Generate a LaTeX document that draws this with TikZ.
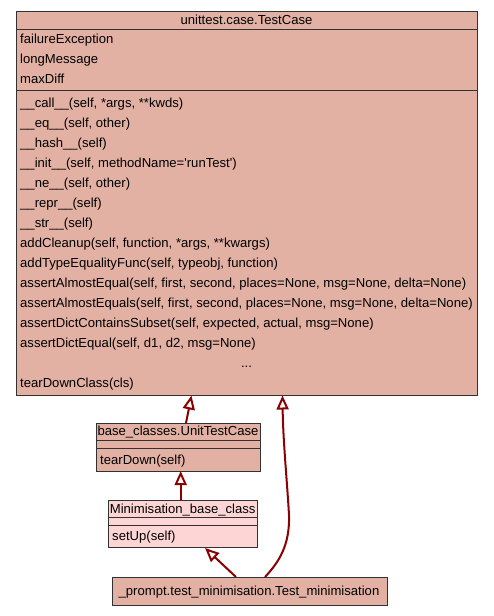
\documentclass[tikz,border=0pt]{standalone}
\usepackage{fontspec}
\setmainfont{Liberation Sans}
\usetikzlibrary{arrows.meta}
\definecolor{boxfill}{RGB}{227,177,164}
\definecolor{pinkfill}{RGB}{254,213,213}
\definecolor{edgec}{RGB}{139,0,0}
\definecolor{borderc}{RGB}{50,50,50}
\tikzset{
  cls/.style={draw=borderc, line width=1pt, anchor=north west, inner sep=0pt, outer sep=0pt},
  sep/.style={draw=borderc, line width=1pt},
  txt/.style={anchor=base west, inner sep=0pt, font=\fontsize{13.1}{15}\selectfont},
  ctxt/.style={anchor=base, inner sep=0pt, font=\fontsize{13.1}{15}\selectfont},
  inh/.style={draw=edgec, line width=2pt, -{Triangle[open, length=14pt, width=12pt, line width=2pt]}},
}
\begin{document}
\begin{tikzpicture}[x=1pt, y=-1pt]
\useasboundingbox[fill=white] (0,0) rectangle (493,616);
% main class
\node[cls, fill=boxfill, minimum width=461pt, minimum height=384pt] (tc) at (16,11) {};
\draw[sep] (16,29) -- (477,29);
\draw[sep] (16,90.5) -- (477,90.5);
\node[ctxt] (tct) at (246.5,24) {unittest.case.TestCase};
\node[txt] (a1) at (20,43.5) {failureException};
\node[txt] (a2) at (20,63.5) {longMessage};
\node[txt] (a3) at (20,83.5) {maxDiff};
\node[txt] (m1) at (20,107) {\_\_call\_\_(self, *args, **kwds)};
\node[txt] (m2) at (20,127) {\_\_eq\_\_(self, other)};
\node[txt] (m3) at (20,147) {\_\_hash\_\_(self)};
\node[txt] (m4) at (20,167) {\_\_init\_\_(self, methodName=\textquotesingle runTest\textquotesingle)};
\node[txt] (m5) at (20,187) {\_\_ne\_\_(self, other)};
\node[txt] (m6) at (20,207) {\_\_repr\_\_(self)};
\node[txt] (m7) at (20,227) {\_\_str\_\_(self)};
\node[txt] (m8) at (20,247) {addCleanup(self, function, *args, **kwargs)};
\node[txt] (m9) at (20,267) {addTypeEqualityFunc(self, typeobj, function)};
\node[txt] (m10) at (20,287) {assertAlmostEqual(self, first, second, places=None, msg=None, delta=None)};
\node[txt] (m11) at (20,307) {assertAlmostEquals(self, first, second, places=None, msg=None, delta=None)};
\node[txt] (m12) at (20,327) {assertDictContainsSubset(self, expected, actual, msg=None)};
\node[txt] (m13) at (20,347) {assertDictEqual(self, d1, d2, msg=None)};
\node[ctxt] (m14) at (246.5,367) {...};
\node[txt] (m15) at (20,387) {tearDownClass(cls)};
% UnitTestCase
\node[cls, fill=boxfill, minimum width=164pt, minimum height=48pt] (utc) at (96,423) {};
\draw[sep] (96,440) -- (260,440);
\draw[sep] (96,448) -- (260,448);
\node[ctxt] (utct) at (178,435) {base\_classes.UnitTestCase};
\node[txt] (utcm) at (100,464) {tearDown(self)};
% Minimisation_base_class
\node[cls, fill=pinkfill, minimum width=149.5pt, minimum height=47.5pt] (mbc) at (108,500) {};
\draw[sep] (108,517) -- (257.5,517);
\draw[sep] (108,525.5) -- (257.5,525.5);
\node[ctxt] (mbct) at (182.7,513) {Minimisation\_base\_class};
\node[txt] (mbcm) at (112,540) {setUp(self)};
% Test_minimisation
\node[cls, fill=boxfill, minimum width=275pt, minimum height=28.5pt] (tm) at (112,577) {};
\node[ctxt] (tmt) at (249,595) {\_prompt.test\_minimisation.Test\_minimisation};
% inheritance edges
\coordinate (utcA) at (186,423);
\coordinate (tcA) at (191.5,395.5);
\coordinate (tcB) at (282.5,395.5);
\coordinate (mbcA) at (180.7,500);
\coordinate (utcB) at (180.7,471);
\coordinate (tmA) at (236,577);
\coordinate (mbcB) at (205,548);
\coordinate (tmB) at (265,577);
\draw[inh] (utcA) -- (tcA);
\draw[inh] (mbcA) -- (utcB);
\draw[inh] (tmA) -- (mbcB);
\draw[inh] (tmB) .. controls (279,562) and (290,545) .. (289,515) .. controls (287,480) and (283,440) .. (tcB);
\end{tikzpicture}
\end{document}
